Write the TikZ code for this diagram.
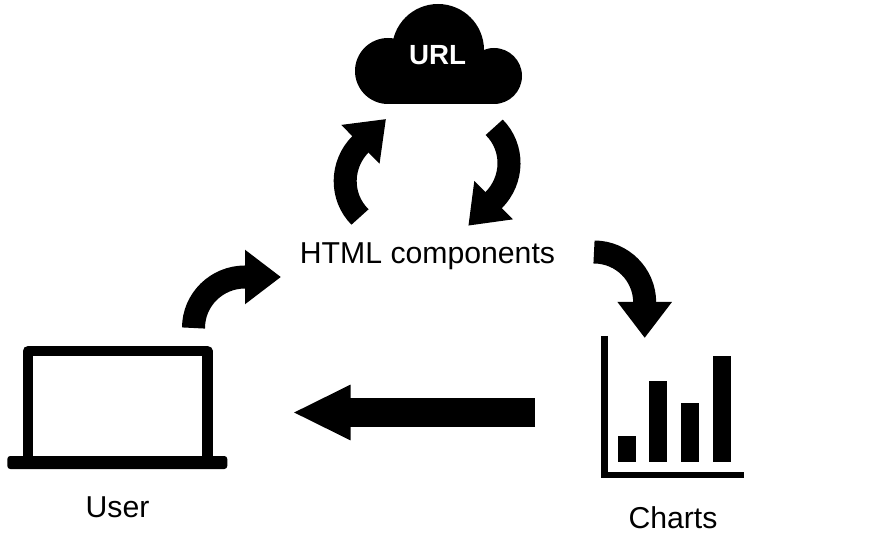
\documentclass[tikz,border=0pt]{standalone}
\usepackage{fontspec}
\setmainfont{Liberation Sans}
\usetikzlibrary{arrows.meta,positioning}
\tikzset{
  label/.style={inner sep=0pt,anchor=base,font=\fontsize{30.2}{34}\selectfont},
  block/.style={fill=black,draw=none,inner sep=0pt,anchor=north west},
  bigarrow/.style={line width=23pt,-{Triangle[width=52pt,length=36pt]}},
  longarrow/.style={line width=29pt,-{Triangle[width=51pt,length=58pt]}},
}
\begin{document}
\begin{tikzpicture}[x=1pt,y=-1pt]
\useasboundingbox (0,0) rectangle (878,534);
%cloud
\fill (388,71) circle (33);
\fill (494,76) circle (28);
\fill (438,50) circle (46);
\fill (388,60) rectangle (494,104);
\node[label,text=white,font=\bfseries\fontsize{27.7}{32}\selectfont] (url) at (437.5,65) {URL};
\node[label] (html) at (427.5,263.5) {HTML components};
%laptop
\draw[line width=10.5pt,line join=round] (27.8,458) -- (27.8,351.2) -- (207.4,351.2) -- (207.4,458);
\fill[rounded corners=3pt] (7.3,456) rectangle (227.3,469);
\node[label] (user) at (117.5,517) {User};
%chart
\draw[line width=6.5pt,line join=miter] (604.3,336) -- (604.3,474.8) -- (744,474.8);
\node[block,minimum width=18.2pt,minimum height=25.7pt] (bara) at (617.7,436) {};
\node[block,minimum width=18.2pt,minimum height=80.7pt] (barb) at (649,381) {};
\node[block,minimum width=18.2pt,minimum height=58.7pt] (barc) at (681,403) {};
\node[block,minimum width=18.2pt,minimum height=105.7pt] (bard) at (713,356) {};
\node[label] (charts) at (673,528) {Charts};
%arrows
\coordinate (cloudin) at (386,119);
\coordinate (cloudout) at (494.2,127.3);
\coordinate (htmlup) at (360,217);
\coordinate (htmldown) at (468.3,225.7);
\coordinate (htmlin) at (281,277);
\coordinate (htmlout) at (594,252);
\coordinate (userout) at (193.5,328);
\coordinate (userin) at (292.5,412.5);
\coordinate (chartin) at (644.7,338);
\coordinate (chartout) at (535,412.5);
\draw[bigarrow] (htmlup) to[out=135,in=-135] (360.7,144) -- (cloudin);
\draw[bigarrow] (cloudout) to[out=-45,in=45] (493.5,200.3) -- (htmldown);
\draw[bigarrow] (userout) to[out=90,in=180] (245,277) -- (htmlin);
\draw[bigarrow] (htmlout) to[out=0,in=90] (644.7,302.7) -- (chartin);
\draw[longarrow] (chartout) -- (userin);
\end{tikzpicture}
\end{document}
